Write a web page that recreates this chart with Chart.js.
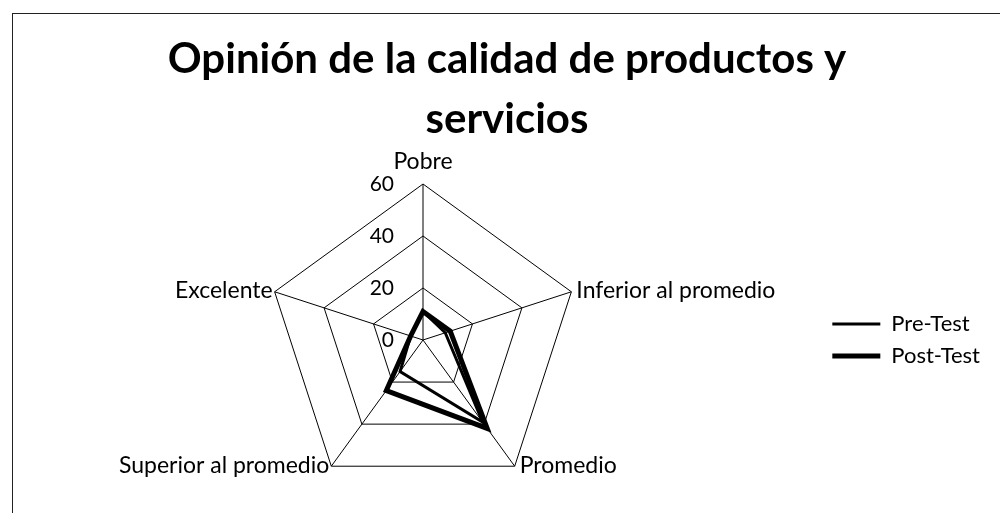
<!DOCTYPE html>
<html>
<head>
<meta charset="utf-8">
<script src="https://cdn.jsdelivr.net/npm/chart.js@4.4.1/dist/chart.umd.min.js"></script>
<style>
    html, body { margin: 0; padding: 0; background: #fff; }
    body { width: 1000px; height: 513px; position: relative; overflow: hidden; }
    #frame { position: absolute; left: 12px; top: 13px; width: 1010px; height: 530px; border: 1.5px solid #222; }
    #chart { position: absolute; left: 0; top: 0; }
</style>
</head>
<body>
<div id="frame"></div>
<canvas id="chart" width="1000" height="513"></canvas>
<script>
const categories = ['Pobre', 'Inferior al promedio', 'Promedio', 'Superior al promedio', 'Excelente'];
const preTest = [11, 9, 39, 15, 5];
const postTest = [11, 11, 42, 24, 5];
const tickValues = [0, 20, 40, 60];

// point labels and tick labels placed like the Excel radar
const radarLabels = {
    id: 'radarLabels',
    afterDraw(chart) {
        const scale = chart.scales.r;
        const ctx = chart.ctx;
        ctx.save();
        ctx.fillStyle = '#000';

        // tick labels to the left of the top spoke
        ctx.font = '21px Lato';
        ctx.textAlign = 'right';
        ctx.textBaseline = 'middle';
        tickValues.forEach(function(v) {
            const p = scale.getPointPositionForValue(0, v);
            ctx.fillText(String(v), p.x - 29, p.y);
        });

        // category labels at the outer vertices
        ctx.font = '23px Lato';
        chart.data.labels.forEach(function(label, i) {
            const p = scale.getPointPosition(i, scale.drawingArea);
            if (Math.abs(p.x - scale.xCenter) < 2) {
                ctx.textAlign = 'center';
                ctx.textBaseline = 'alphabetic';
                ctx.fillText(label, p.x, p.y - 15);
            } else if (p.x > scale.xCenter) {
                ctx.textAlign = 'left';
                ctx.textBaseline = 'middle';
                ctx.fillText(label, p.x + 5, p.y - 1);
            } else {
                ctx.textAlign = 'right';
                ctx.textBaseline = 'middle';
                ctx.fillText(label, p.x - 2, p.y - 1);
            }
        });
        ctx.restore();
    }
};

const chart = new Chart(document.getElementById('chart').getContext('2d'), {
    type: 'radar',
    data: {
        labels: categories,
        datasets: [
            {
                label: 'Pre-Test',
                data: preTest,
                borderColor: '#000',
                backgroundColor: '#000',
                borderWidth: 3,
                pointRadius: 0,
                fill: false,
                tension: 0
            },
            {
                label: 'Post-Test',
                data: postTest,
                borderColor: '#000',
                backgroundColor: '#000',
                borderWidth: 5,
                pointRadius: 0,
                fill: false,
                tension: 0
            }
        ]
    },
    options: {
        responsive: false,
        animation: false,
        devicePixelRatio: 1,
        layout: {
            padding: { left: 24, right: 10, top: 0, bottom: 16 }
        },
        plugins: {
            legend: {
                position: 'right',
                fullSize: false,
                labels: {
                    color: '#000',
                    font: { family: 'Lato', size: 22 },
                    usePointStyle: true,
                    pointStyle: 'line',
                    pointStyleWidth: 48,
                    padding: 10
                }
            },
            tooltip: { enabled: false },
            title: {
                display: true,
                text: ['Opinión de la calidad de productos y', 'servicios'],
                color: '#000',
                font: { family: 'Lato', size: 42, weight: 'bold', lineHeight: 1.43 },
                padding: { top: 29, bottom: 34 }
            }
        },
        scales: {
            r: {
                min: 0,
                max: 60,
                ticks: { stepSize: 20, display: false },
                grid: { color: '#000', lineWidth: 1 },
                angleLines: { color: '#000', lineWidth: 1 },
                pointLabels: { display: false }
            }
        }
    },
    plugins: [radarLabels]
});
</script>
</body>
</html>
